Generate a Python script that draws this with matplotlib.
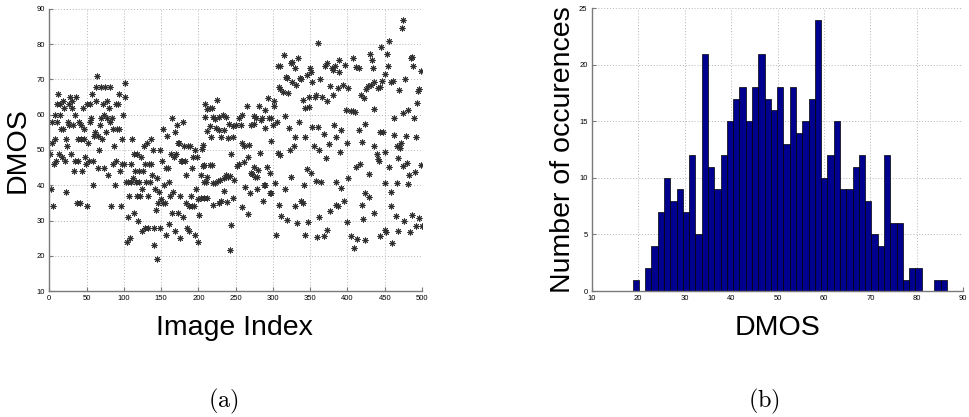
import numpy as np
import matplotlib
matplotlib.use("Agg")
import matplotlib.pyplot as plt

plt.rcParams["font.family"] = ["Liberation Sans", "DejaVu Sans"]
plt.rcParams["mathtext.fontset"] = "cm"

# DMOS of images 1-200 (one value per image, in index order)
early_dmos = [
    49, 39, 52, 58, 34, 46, 53, 60, 47, 58,
    63, 66, 49, 63, 60, 56, 48, 64, 56, 62,
    47, 38, 53, 51, 58, 57, 63, 65, 49, 62,
    64, 57, 44, 60, 47, 65, 35, 53, 47, 58,
    35, 53, 57, 44, 62, 56, 53, 48, 46, 34,
    63, 52, 47, 63, 58, 59, 66, 47, 40, 54,
    55, 68, 64, 71, 45, 54, 50, 57, 68, 59,
    53, 63, 60, 45, 68, 55, 59, 64, 43, 62,
    58, 68, 34, 59, 46, 56, 51, 40, 63, 47,
    56, 63, 56, 66, 44, 34, 46, 53, 60, 46,
    65, 69, 41, 24, 31, 41, 37, 25, 46, 41,
    53, 42, 32, 49, 44, 41, 37, 49, 30, 44,
    41, 37, 48, 39, 27, 44, 51, 28, 46, 41,
    52, 37, 28, 46, 41, 53, 46, 43, 50, 23,
    28, 39, 33, 42, 19, 35, 38, 28, 50, 36,
    47, 35, 56, 40, 35, 26, 45, 54, 45, 29,
    41, 37, 49, 59, 32, 38, 48, 27, 55, 49,
    57, 32, 52, 52, 37, 25, 47, 47, 58, 31,
    51, 47, 35, 43, 28, 51, 27, 34, 51, 37,
    34, 45, 48, 34, 26, 50, 39, 48, 24, 36,
]

# images 201-500: index and DMOS pairs
late_index = [
    201, 203, 204, 205, 206, 206, 208, 208, 208, 209, 209, 210, 212, 212, 212, 212,
    215, 215, 216, 217, 218, 218, 219, 220, 220, 222, 222, 224, 225, 226, 228, 228,
    228, 229, 230, 231, 233, 235, 235, 235, 237, 237, 238, 240, 240, 241, 243, 243,
    244, 244, 246, 246, 247, 248, 250, 252, 254, 255, 257, 258, 259, 259, 261, 261,
    263, 265, 266, 267, 268, 269, 270, 271, 272, 274, 275, 275, 276, 277, 278, 278,
    280, 281, 283, 284, 286, 287, 288, 289, 290, 290, 292, 293, 295, 296, 296, 297,
    298, 298, 300, 301, 301, 303, 304, 305, 307, 307, 308, 308, 309, 310, 310, 311,
    314, 315, 316, 316, 317, 319, 319, 320, 322, 323, 324, 324, 325, 326, 328, 329,
    330, 330, 331, 332, 333, 335, 337, 338, 338, 340, 341, 342, 343, 343, 343, 346,
    346, 347, 348, 349, 350, 351, 351, 352, 353, 355, 357, 358, 358, 359, 361, 361,
    362, 362, 363, 365, 366, 368, 368, 370, 371, 372, 372, 373, 375, 376, 377, 379,
    380, 381, 382, 383, 384, 384, 385, 387, 387, 388, 389, 390, 391, 392, 394, 395,
    397, 398, 399, 399, 401, 401, 405, 405, 407, 408, 409, 410, 411, 412, 413, 415,
    415, 417, 418, 420, 420, 421, 422, 423, 423, 424, 425, 427, 429, 429, 430, 431,
    433, 434, 435, 435, 436, 436, 439, 441, 441, 442, 443, 443, 444, 445, 446, 448,
    450, 450, 451, 451, 452, 453, 455, 456, 456, 458, 458, 459, 460, 461, 462, 463,
    465, 466, 467, 468, 468, 469, 470, 472, 473, 474, 474, 475, 476, 477, 478, 480,
    481, 481, 482, 484, 485, 487, 487, 488, 489, 490, 492, 492, 493, 495, 496, 496,
    498, 499, 500,
]
late_dmos = [
    31.6, 36.3, 42.9, 50.3, 51.4, 45.6, 45.7, 41.0, 36.3, 63.0, 59.5, 41.0, 61.5, 55.5, 42.4, 36.3,
    61.8, 56.8, 45.7, 53.8, 62.0, 45.7, 34.4, 59.5, 40.7, 58.7, 40.7, 56.1, 64.2, 41.3, 59.5, 55.7,
    35.1, 41.5, 53.8, 35.4, 60.0, 55.7, 42.0, 38.5, 59.5, 42.9, 35.3, 53.3, 42.4, 57.3, 42.6, 21.6,
    48.9, 28.7, 56.8, 36.3, 53.8, 41.5, 57.1, 45.6, 59.0, 45.9, 57.1, 60.0, 52.0, 33.9, 51.2, 46.5,
    39.6, 62.5, 48.1, 31.8, 51.4, 37.9, 43.5, 57.1, 43.3, 59.7, 57.4, 45.3, 42.4, 59.2, 42.4, 38.8,
    44.3, 62.5, 49.2, 58.5, 59.0, 35.5, 40.1, 56.3, 61.3, 40.1, 45.3, 64.7, 59.0, 43.4, 37.7, 52.6,
    59.0, 37.7, 57.1, 62.5, 64.0, 40.5, 25.9, 58.0, 73.9, 49.2, 67.8, 34.4, 73.9, 67.2, 48.6, 31.3,
    66.5, 77.0, 59.6, 38.8, 70.6, 70.4, 30.1, 66.3, 56.3, 50.0, 74.6, 42.4, 69.4, 75.0, 51.0, 73.4,
    53.8, 34.0, 68.4, 29.2, 76.0, 58.0, 70.5, 70.0, 35.5, 35.0, 64.2, 40.1, 61.8, 53.8, 25.9, 71.3,
    44.5, 29.7, 62.3, 65.1, 73.4, 72.0, 43.5, 56.6, 69.4, 51.0, 65.1, 65.7, 41.2, 25.4, 80.4, 56.6,
    50.0, 31.1, 70.0, 41.0, 65.1, 54.5, 25.6, 73.8, 47.6, 63.9, 27.3, 74.6, 51.7, 32.8, 68.2, 73.2,
    65.6, 72.7, 57.1, 73.9, 40.8, 34.3, 53.6, 67.7, 34.0, 72.0, 75.5, 49.5, 55.7, 39.1, 68.4, 35.5,
    74.1, 61.3, 52.1, 29.7, 67.5, 42.0, 61.0, 25.6, 76.0, 61.0, 22.1, 60.8, 73.6, 45.3, 24.7, 73.4,
    55.7, 45.9, 65.7, 52.4, 34.4, 30.3, 64.8, 57.4, 37.9, 24.5, 67.2, 68.2, 43.2, 36.8, 77.1, 68.4,
    75.4, 73.3, 69.4, 32.2, 61.5, 51.0, 48.9, 67.7, 47.5, 46.9, 67.8, 55.2, 25.6, 79.3, 69.6, 55.0,
    71.6, 27.2, 49.5, 40.7, 26.7, 77.2, 73.9, 81.0, 45.1, 69.2, 38.0, 34.0, 23.5, 69.7, 59.0, 54.3,
    31.3, 51.0, 40.7, 47.6, 27.1, 67.0, 50.5, 52.1, 84.5, 86.9, 45.5, 60.4, 30.0, 70.0, 54.0, 46.4,
    61.3, 40.3, 42.9, 26.8, 76.1, 76.3, 31.7, 73.9, 59.0, 43.7, 53.8, 28.4, 63.4, 66.7, 67.4, 30.8,
    72.5, 45.7, 28.4,
]

image_index = list(range(1, len(early_dmos) + 1)) + late_index
dmos = early_dmos + late_dmos

# DMOS histogram: 50 equal bins between the lowest and highest score
dmos_min, dmos_max = 18.8, 86.45
hist_counts = [
    1, 0, 2, 4, 7, 10, 8, 9, 7, 12,
    5, 21, 11, 9, 12, 15, 17, 18, 15, 18,
    21, 17, 16, 18, 13, 18, 14, 15, 17, 24,
    10, 12, 15, 9, 9, 11, 12, 8, 5, 4,
    12, 6, 6, 1, 2, 2, 0, 0, 1, 1,
]

W, H = 969, 417
fig = plt.figure(figsize=(W / 100, H / 100), dpi=100)

axis_grey = "#7a7a7a"


def frac_box(x0, y_top, x1, y_bot):
    return [x0 / W, 1 - y_bot / H, (x1 - x0) / W, (y_bot - y_top) / H]


def style_axes(ax):
    for side in ("top", "right"):
        ax.spines[side].set_visible(False)
    for side in ("left", "bottom"):
        ax.spines[side].set_color(axis_grey)
        ax.spines[side].set_linewidth(1.0)
    ax.tick_params(direction="in", length=3, width=0.8, color=axis_grey,
                   labelsize=5.5, pad=3)
    ax.grid(True, linestyle=(0, (1, 2)), color="#b5b5b5", linewidth=0.7)
    ax.set_axisbelow(True)


# (a) DMOS per image, drawn with eight-spoke asterisks
ax1 = fig.add_axes(frac_box(49.3, 9, 422, 291))
ax1.plot(image_index, dmos, linestyle="none", marker=(8, 2, 0), markersize=4.2,
         markeredgewidth=0.7, color="#303030")
ax1.set_xlim(0, 500)
ax1.set_ylim(10, 90)
ax1.set_xticks(np.arange(0, 501, 50))
ax1.set_yticks(np.arange(10, 91, 10))
style_axes(ax1)

# (b) histogram of DMOS
ax2 = fig.add_axes(frac_box(591.7, 8.3, 963.3, 291))
edges = np.linspace(dmos_min, dmos_max, len(hist_counts) + 1)
ax2.bar(edges[:-1], hist_counts, width=np.diff(edges), align="edge",
        color="#00008f", edgecolor="black", linewidth=0.5)
ax2.set_xlim(10, 90)
ax2.set_ylim(0, 25)
ax2.set_xticks(np.arange(10, 91, 10))
ax2.set_yticks(np.arange(0, 26, 5))
style_axes(ax2)

label_size = 20.5
fig.text(234 / W, 1 - 335 / H, "Image Index", fontsize=label_size,
         ha="center", va="baseline")
fig.text(777.5 / W, 1 - 335 / H, "DMOS", fontsize=label_size,
         ha="center", va="baseline")
fig.text(25 / W, 1 - 150.5 / H, "DMOS", fontsize=label_size, rotation=90,
         rotation_mode="anchor", ha="center", va="baseline")
fig.text(570 / W, 1 - 150 / H, "Number of occurences", fontsize=label_size,
         rotation=90, rotation_mode="anchor", ha="center", va="baseline")

fig.text(223 / W, 1 - 407 / H, r"$\mathrm{(a)}$", fontsize=17.5,
         ha="center", va="baseline")
fig.text(764 / W, 1 - 407 / H, r"$\mathrm{(b)}$", fontsize=17.5,
         ha="center", va="baseline")

fig.savefig("out.png", dpi=100, facecolor="white")
